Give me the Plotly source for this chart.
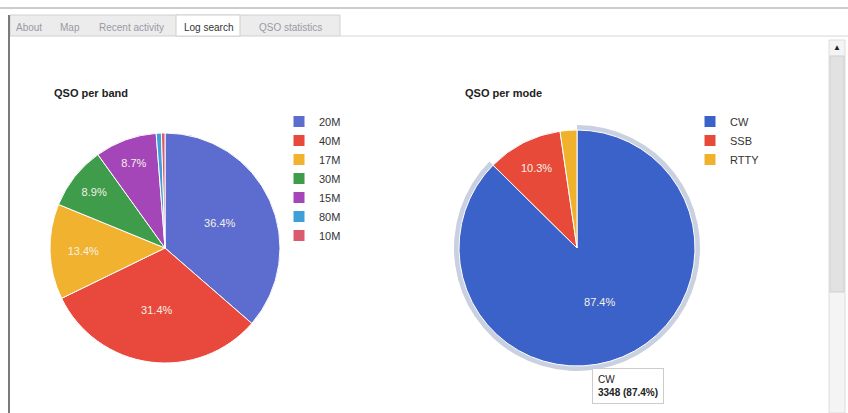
import plotly.graph_objects as go

# ---- data ----
band_labels = ["20M", "40M", "17M", "30M", "15M", "80M", "10M"]
band_counts = [1394, 1203, 513, 341, 333, 28, 19]
band_colors = ["#5d6ccf", "#e8493c", "#f1b230", "#3f9c4b", "#a446b8", "#3f9fd8", "#dc5a6e"]

mode_labels = ["CW", "SSB", "RTTY"]
mode_counts = [3348, 395, 88]
mode_colors = ["#3b62c8", "#e84a3a", "#f0b22c"]
ring_colors = ["#c9d0e0", "rgba(0,0,0,0)", "rgba(0,0,0,0)"]

tab_labels = ["About", "Map", "Recent activity", "Log search", "QSO statistics"]

W, H = 848, 413


def px(x):
    return x / W


def py(y):
    return 1 - y / H


def pct_text(vals, minshare=5.0):
    tot = sum(vals)
    return [f"{v / tot * 100:.1f}%" if v / tot * 100 >= minshare else "" for v in vals]


fig = go.Figure()

# left pie
fig.add_trace(go.Pie(
    labels=band_labels, values=band_counts, sort=False, direction="clockwise",
    rotation=0, marker=dict(colors=band_colors, line=dict(color="white", width=1)),
    text=pct_text(band_counts), textinfo="text", textposition="inside",
    insidetextorientation="horizontal",
    textfont=dict(family="Arial, Liberation Sans", size=11, color="#f6f1e4"),
    domain=dict(x=[px(50), px(280)], y=[py(363), py(133)]),
    legend="legend", hoverinfo="label+value+percent",
))

# hover ring behind the right pie
fig.add_trace(go.Pie(
    labels=mode_labels, values=mode_counts, sort=False, direction="clockwise",
    rotation=0, marker=dict(colors=ring_colors, line=dict(width=0)),
    textinfo="none", showlegend=False, hoverinfo="skip",
    domain=dict(x=[px(454), px(700)], y=[py(371), py(125)]),
))

# right pie
fig.add_trace(go.Pie(
    labels=mode_labels, values=mode_counts, sort=False, direction="clockwise",
    rotation=0, marker=dict(colors=mode_colors, line=dict(color="white", width=1)),
    text=pct_text(mode_counts), textinfo="text", textposition="inside",
    insidetextorientation="horizontal",
    textfont=dict(family="Arial, Liberation Sans", size=11, color="#f6f1e4"),
    domain=dict(x=[px(459), px(695)], y=[py(366), py(130)]),
    legend="legend2", hoverinfo="label+value+percent",
))

legend_font = dict(family="Arial, Liberation Sans", size=11, color="#333333")

shapes = [
    # outer top frame line
    dict(type="line", xref="paper", yref="paper", x0=0, x1=1, y0=py(8), y1=py(8),
         line=dict(color="#9a9a9a", width=1)),
    # left border
    dict(type="line", xref="paper", yref="paper", x0=px(9), x1=px(9), y0=py(15), y1=0,
         line=dict(color="#7a7a7a", width=2)),
    # tab bar background
    dict(type="rect", xref="paper", yref="paper", x0=px(10), x1=px(340), y0=py(36), y1=py(15),
         fillcolor="#ececec", line=dict(color="#d0d0d0", width=1), layer="below"),
    # active tab
    dict(type="rect", xref="paper", yref="paper", x0=px(176), x1=px(240), y0=py(36), y1=py(15),
         fillcolor="#ffffff", line=dict(color="#d0d0d0", width=1), layer="below"),
    # content top border
    dict(type="line", xref="paper", yref="paper", x0=px(340), x1=px(848), y0=py(36), y1=py(36),
         line=dict(color="#d6d6d6", width=1)),
    # scrollbar track
    dict(type="rect", xref="paper", yref="paper", x0=px(829), x1=px(845), y0=0, y1=py(40),
         fillcolor="#f4f4f4", line=dict(color="#dddddd", width=1), layer="below"),
    # scrollbar thumb
    dict(type="rect", xref="paper", yref="paper", x0=px(830), x1=px(844), y0=py(292), y1=py(56),
         fillcolor="#e2e2e2", line=dict(color="#cfcfcf", width=1), layer="below"),
]

tab_x = [29, 70, 131, 208, 290]
annotations = []
for lab, x in zip(tab_labels, tab_x):
    active = lab == "Log search"
    annotations.append(dict(
        text=lab, x=px(x), y=py(27), xref="paper", yref="paper", showarrow=False,
        xanchor="center", yanchor="middle",
        font=dict(family="Arial, Liberation Sans", size=10,
                  color="#333333" if active else "#9a9aa4"),
    ))

annotations += [
    dict(text="<b>QSO per band</b>", x=px(52), y=py(93), xref="paper", yref="paper",
         xanchor="left", yanchor="middle", showarrow=False,
         font=dict(family="Arial, Liberation Sans", size=11, color="#222222")),
    dict(text="<b>QSO per mode</b>", x=px(463), y=py(93), xref="paper", yref="paper",
         xanchor="left", yanchor="middle", showarrow=False,
         font=dict(family="Arial, Liberation Sans", size=11, color="#222222")),
    dict(text="▲", x=px(837), y=py(47), xref="paper", yref="paper", showarrow=False,
         xanchor="center", yanchor="middle",
         font=dict(size=8, color="#222222")),
    # tooltip
    dict(text=f"{mode_labels[0]}<br><b>{mode_counts[0]} ({mode_counts[0] / sum(mode_counts) * 100:.1f}%)</b>",
         x=px(592), y=py(368), xref="paper", yref="paper", xanchor="left", yanchor="top",
         align="left", showarrow=False, bgcolor="#ffffff", bordercolor="#cccccc", borderwidth=1,
         borderpad=5, font=dict(family="Arial, Liberation Sans", size=10, color="#222222")),
]

fig.update_layout(
    width=W, height=H, margin=dict(l=0, r=0, t=0, b=0),
    paper_bgcolor="white", plot_bgcolor="white",
    legend=dict(x=px(279), y=py(107), xanchor="left", yanchor="top", font=legend_font,
                bgcolor="rgba(0,0,0,0)", traceorder="normal"),
    legend2=dict(x=px(690), y=py(107), xanchor="left", yanchor="top", font=legend_font,
                 bgcolor="rgba(0,0,0,0)", traceorder="normal"),
    shapes=shapes, annotations=annotations,
)

fig.write_html("out.html", config={"displayModeBar": False},
               post_script="document.body.style.margin='0';document.body.style.overflow='hidden';")
